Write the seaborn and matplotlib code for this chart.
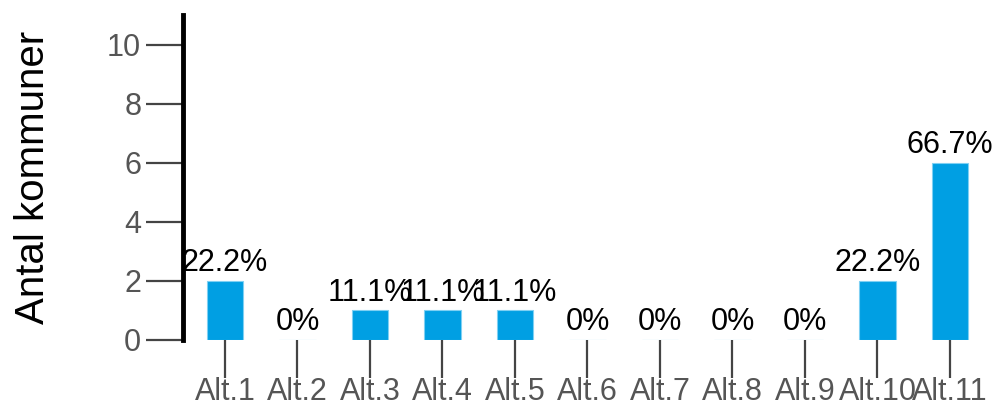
import matplotlib
matplotlib.use("Agg")
import matplotlib.pyplot as plt
import seaborn as sns
import pandas as pd

categories = ["Alt.1", "Alt.2", "Alt.3", "Alt.4", "Alt.5", "Alt.6", "Alt.7", "Alt.8", "Alt.9", "Alt.10", "Alt.11"]
counts = [2, 0, 1, 1, 1, 0, 0, 0, 0, 2, 6]
pct_labels = ["22.2%", "0%", "11.1%", "11.1%", "11.1%", "0%", "0%", "0%", "0%", "22.2%", "66.7%"]
y_ticks = [0, 2, 4, 6, 8, 10]
y_label = "Antal kommuner"

sns.set_theme(style="white")
plt.rcParams["font.family"] = ["Liberation Sans", "DejaVu Sans"]

df = pd.DataFrame({"cat": categories, "n": counts})

fig = plt.figure(figsize=(9.94, 4.09), dpi=100)
ax = fig.add_axes([0.184, 0.169, 0.814, 0.794])

sns.barplot(data=df, x="cat", y="n", color="#009FE3", saturation=1, width=0.5,
            edgecolor="#7fd0f3", linewidth=0.8, ax=ax)

ax.bar_label(ax.containers[0], labels=pct_labels, padding=2, fontsize=22, color="black")

ax.set_ylim(0, 11)
ax.set_xlim(-0.58, 10.58)
ax.set_yticks(y_ticks)
ax.set_xlabel("")
ax.set_ylabel(y_label, fontsize=29, color="black", labelpad=40)

for s in ["top", "right", "bottom"]:
    ax.spines[s].set_visible(False)
ax.spines["left"].set_linewidth(3.5)
ax.spines["left"].set_color("black")

ax.tick_params(axis="y", length=27, width=1.6, color="#444444", labelsize=22,
               labelcolor="#555555", pad=3, left=True)
ax.tick_params(axis="x", length=27, width=1.6, color="#444444", labelsize=22,
               labelcolor="#555555", pad=0, bottom=True)

fig.savefig("out.png", dpi=100)
